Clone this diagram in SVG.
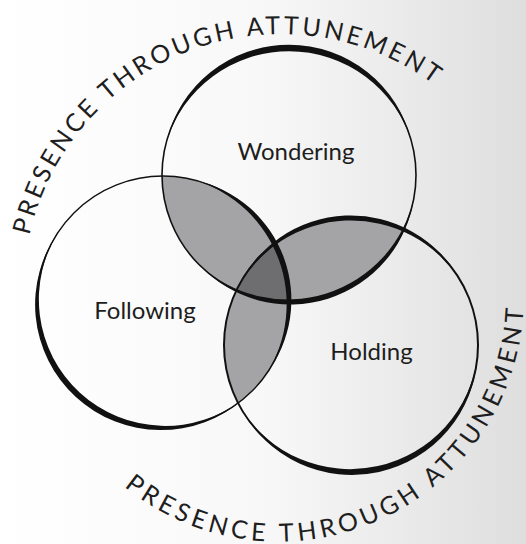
<svg xmlns="http://www.w3.org/2000/svg" width="526" height="544" viewBox="0 0 526 544">
<defs>
<linearGradient id="bgGrad" x1="0" y1="0" x2="1" y2="0">
<stop offset="0" stop-color="#ffffff"/>
<stop offset="0.5" stop-color="#f8f8f8"/>
<stop offset="1" stop-color="#dedede"/>
</linearGradient>
<clipPath id="clipT"><circle cx="289" cy="175" r="127"/></clipPath>
<clipPath id="clipL"><circle cx="163" cy="302" r="126"/></clipPath>
<path id="arcTop" d="M38.87,381.09 A258,258 0 0 1 523.13,202.91"/>
<path id="arcBottom" d="M56.06,398.60 A245,245 0 0 0 501.94,195.40"/>
<style>
.ring{fill:none;stroke:#111;}
.brush{fill:#111;}
.lens{fill:#a4a4a7;}
.core{fill:#6e6e71;}
.label{font-family:Lato,"Open Sans","Liberation Sans",sans-serif;font-size:24px;fill:#1e1e1e;text-anchor:middle;}
.arc{font-family:Lato,"Open Sans","Liberation Sans",sans-serif;font-size:25px;fill:#1e1e1e;text-anchor:middle;}
</style>
</defs>
<rect id="background" x="0" y="0" width="526" height="544" fill="url(#bgGrad)"/>
<g id="overlaps">
<g clip-path="url(#clipT)"><circle cx="163" cy="302" r="126" class="lens"/><circle cx="351" cy="345" r="127" class="lens"/></g>
<g clip-path="url(#clipL)"><circle cx="351" cy="345" r="127" class="lens"/></g>
<g clip-path="url(#clipT)"><g clip-path="url(#clipL)"><circle cx="351" cy="345" r="127" class="core"/></g></g>
</g>
<g id="wondering">
<circle class="ring" cx="289" cy="175" r="127" stroke-width="1.6"/>
<path class="brush" d="M166.33,142.13 A125.96,125.96 0 0 1 411.67,142.13 A128.23,128.23 0 0 0 166.33,142.13 Z"/>
<path class="brush" d="M414.07,197.05 A124.79,124.79 0 0 1 199.20,264.80 A129.52,129.52 0 0 0 414.07,197.05 Z"/>
<text class="label" x="296" y="160">Wondering</text>
</g>
<g id="following">
<circle class="ring" cx="163" cy="302" r="126" stroke-width="1.4"/>
<path class="brush" d="M243.99,398.52 A125.60,125.60 0 0 1 59.79,229.73 A126.50,126.50 0 0 0 243.99,398.52 Z"/>
<path class="brush" d="M195.61,180.29 A122.54,122.54 0 0 1 266.21,374.27 A129.96,129.96 0 0 0 195.61,180.29 Z"/>
<text class="label" x="145" y="319">Following</text>
</g>
<g id="holding">
<circle class="ring" cx="351" cy="345" r="127" stroke-width="2"/>
<path class="brush" d="M235.90,291.33 A124.97,124.97 0 0 1 460.99,281.5 A129.27,129.27 0 0 0 235.90,291.33 Z"/>
<path class="brush" d="M477.52,356.07 A125.80,125.80 0 0 1 241.01,408.5 A128.38,128.38 0 0 0 477.52,356.07 Z"/>
<text class="label" x="371.5" y="360">Holding</text>
</g>
<g id="arc-labels">
<text class="arc" letter-spacing="3.2"><textPath href="#arcTop" startOffset="50%">PRESENCE THROUGH ATTUNEMENT</textPath></text>
<text class="arc" letter-spacing="4.3"><textPath href="#arcBottom" startOffset="50%">PRESENCE THROUGH ATTUNEMENT</textPath></text>
</g>
</svg>
